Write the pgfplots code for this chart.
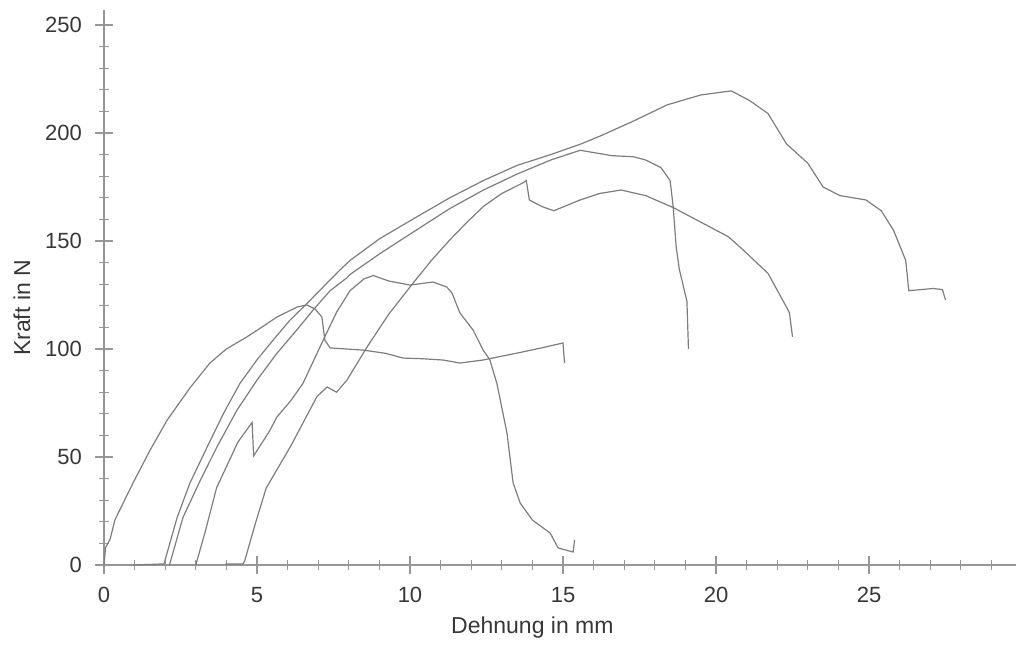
\documentclass[border=0pt]{standalone}
\usepackage{fontspec}
\setmainfont{Liberation Sans}
\usepackage{pgfplots}
\pgfplotsset{compat=1.18}
\definecolor{curve}{RGB}{125,125,125}
\definecolor{axisgray}{RGB}{150,150,150}
\definecolor{labelgray}{RGB}{55,55,55}

\begin{document}
\begin{tikzpicture}
\useasboundingbox (-52pt,-40.5pt) rectangle (456pt,282.5pt);
\begin{axis}[
    at={(0,0)}, anchor=south west,
    x=15.3pt, y=1.08pt,
    xmin=0, xmax=29.8, ymin=0, ymax=257,
    axis lines*=left,
    clip=false,
    xtick={0,5,...,25}, ytick={0,50,...,250},
    minor xtick={1,2,3,4,6,7,8,9,11,12,13,14,16,17,18,19,21,22,23,24,26,27,28,29},
    minor ytick={10,20,30,40,60,70,80,90,110,120,130,140,160,170,180,190,210,220,230,240},
    tick align=center,
    major tick length=9pt, minor tick length=5pt,
    axis line style={axisgray, line width=0.6pt},
    tick style={axisgray, line width=0.6pt},
    tick label style={font=\fontsize{11}{13}\selectfont, text=labelgray},
    /pgf/number format/assume math mode=true,
    xticklabel style={yshift=-3pt},
    yticklabel style={xshift=-3pt},
    xlabel={Dehnung in mm}, ylabel={Kraft in N},
    label style={font=\fontsize{11.5}{13}\selectfont, text=labelgray},
    xlabel style={at={(axis cs:14,-31.5)}, anchor=base},
    ylabel style={at={(axis cs:-2.68,119)}, anchor=center},
  ]
  % Probe 1
  \addplot[curve, line width=0.6pt] coordinates {
    (0,0) (0.05,8) (0.2,12) (0.36,21) (0.95,38) (1.5,53) (2.06,67) (2.81,82)
    (3.46,93.5) (4.0,100) (4.67,105.6) (5.2,110.5) (5.65,114.8) (6.31,119.4)
    (6.63,120.4) (6.9,118.5) (7.12,114.8) (7.22,104) (7.39,100.5) (8.46,99.5)
    (9.2,98) (9.77,95.8) (10.4,95.5) (11.08,94.9) (11.63,93.5) (12.39,94.9)
    (13.5,98.1) (14.3,100.5) (15.0,102.8) (15.05,93.5)
  };
  % Probe 2
  \addplot[curve, line width=0.6pt] coordinates {
    (0.95,0) (1.96,0.5) (2.39,22) (2.81,38) (3.37,54.6) (3.9,70) (4.44,84)
    (5.0,95) (5.52,104) (6.08,113.4) (6.63,121) (7.16,128.7) (7.71,136.6)
    (8.04,141) (9.0,151) (10.2,161) (11.3,170) (12.4,178) (13.5,185)
    (14.6,190) (15.0,192) (15.6,195) (16.2,198.5) (17.3,205.5) (18.4,213)
    (19.5,217.6) (20.5,219.5) (21.1,215) (21.7,209) (22.3,195) (23.0,186)
    (23.5,175) (24.05,171) (24.9,169) (25.4,164) (25.8,155) (26.2,141)
    (26.3,127) (27.1,128) (27.4,127.5) (27.5,122.7)
  };
  % Probe 3
  \addplot[curve, line width=0.6pt] coordinates {
    (2.14,0) (2.58,22) (3.14,39) (3.69,54.6) (4.35,71.8) (5.0,85.6) (5.65,98)
    (6.3,108.8) (6.83,118) (7.39,127) (7.94,133) (8.04,134.5) (9.0,144)
    (10.2,155) (11.3,165) (12.4,173.6) (13.5,181) (14.6,187.5) (15.56,192)
    (16.6,189.5) (17.3,189) (17.7,187.5) (18.2,184) (18.5,178) (18.6,166)
    (18.7,147) (18.8,137) (19.05,122) (19.1,100)
  };
  % Probe 4
  \addplot[curve, line width=0.6pt] coordinates {
    (3.0,0) (3.3,15) (3.68,35.8) (4.38,57) (4.84,66) (4.89,50.5) (5.4,61.8)
    (5.65,68.5) (6.1,76) (6.5,84) (7.16,104) (7.6,117) (8.04,127) (8.5,132.5)
    (8.8,134) (9.3,131.5) (10.0,129.6) (10.75,131) (11.2,128.7) (11.37,126)
    (11.63,116.7) (12.06,108.8) (12.39,99.5) (12.61,95) (12.84,84) (13.17,61)
    (13.37,38) (13.6,28.7) (14.0,20.8) (14.58,14.8) (14.84,7.9) (15.33,6)
    (15.38,11.6)
  };
  % Probe 5
  \addplot[curve, line width=0.6pt] coordinates {
    (3.97,0.5) (4.54,0.5) (4.6,2) (4.95,19.4) (5.3,35.6) (6.1,55) (6.96,78)
    (7.29,82.4) (7.6,80) (7.94,85.6) (8.6,101) (9.3,116) (10.1,130.5)
    (10.7,141) (11.3,150.5) (11.85,158.5) (12.4,166) (13.0,172) (13.7,177)
    (13.8,178) (13.9,169) (14.3,166) (14.7,164) (15.56,169) (16.2,172)
    (16.9,173.6) (17.7,171) (18.6,165.5) (19.6,158) (20.4,152) (20.8,147)
    (21.7,135) (22.3,119.5) (22.4,116.7) (22.5,105.6)
  };
\end{axis}
\end{tikzpicture}
\end{document}
